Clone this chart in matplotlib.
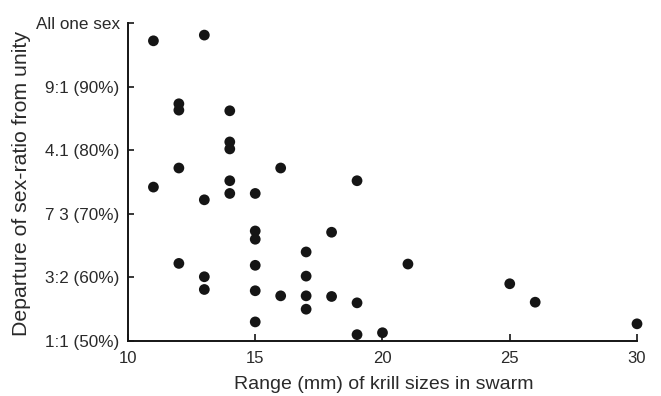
"""Krill swarm sex-ratio scatter plot."""

import matplotlib

matplotlib.use("Agg")

import matplotlib.pyplot as plt  # noqa: E402

# Range (mm) of krill sizes in swarm
size_range = [
    11, 13, 12, 12, 14, 14, 14, 12, 16, 11, 14, 14, 15, 13, 19,
    15, 15, 18, 17, 15, 12, 13, 17, 13, 15, 16, 17, 18, 19, 17,
    15, 19, 20, 21, 25, 26, 30,
]
# Departure of sex-ratio from unity, as % of the majority sex
sex_ratio_pct = [
    97.2, 98.1, 87.3, 86.3, 86.2, 81.3, 80.2, 77.2, 77.2, 74.2, 75.2, 73.2, 73.2, 72.2, 75.2,
    67.3, 66.0, 67.1, 64.0, 61.9, 62.2, 60.1, 60.2, 58.1, 57.9, 57.1, 57.1, 57.0, 56.0, 55.0,
    53.0, 51.0, 51.3, 62.1, 59.0, 56.1, 52.7,
]

x_ticks = [10, 15, 20, 25, 30]
y_ticks = [50, 60, 70, 80, 90, 100]
y_tick_labels = [
    "1:1 (50%)", "3:2 (60%)", "7 3 (70%)", "4.1 (80%)", "9:1 (90%)", "All one sex",
]

_INK = "#151515"
_TEXT = "#2a2a2a"

plt.rcParams["font.family"] = ["Liberation Sans", "DejaVu Sans"]

fig = plt.figure(figsize=(6.61, 3.96), dpi=100, facecolor="white")
ax = fig.add_axes([0.1936, 0.1389, 0.7701, 0.8030])

ax.scatter(size_range, sex_ratio_pct, s=60, color=_INK, edgecolors="none",
           clip_on=False, zorder=3)

ax.set_xlim(10, 30)
ax.set_ylim(50, 100)
ax.set_xticks(x_ticks)
ax.set_yticks(y_ticks)
ax.set_yticklabels(y_tick_labels)

ax.spines["top"].set_visible(False)
ax.spines["right"].set_visible(False)
for side in ("left", "bottom"):
    ax.spines[side].set_color(_INK)
    ax.spines[side].set_linewidth(1.4)

ax.tick_params(axis="x", direction="in", length=5, width=1.2, pad=7,
               colors=_INK, labelsize=12, labelcolor=_TEXT)
ax.tick_params(axis="y", direction="in", length=4, width=1.2, pad=6,
               colors=_INK, labelsize=12.3, labelcolor=_TEXT)

ax.set_xlabel("Range (mm) of krill sizes in swarm", fontsize=14, color=_TEXT)
ax.set_ylabel("Departure of sex-ratio from unity", fontsize=15.3, color=_TEXT)
ax.xaxis.set_label_coords(0.503, -0.11)
ax.yaxis.set_label_coords(-0.19, 0.495)

fig.savefig("out.png", dpi=100, facecolor="white")
plt.close(fig)
